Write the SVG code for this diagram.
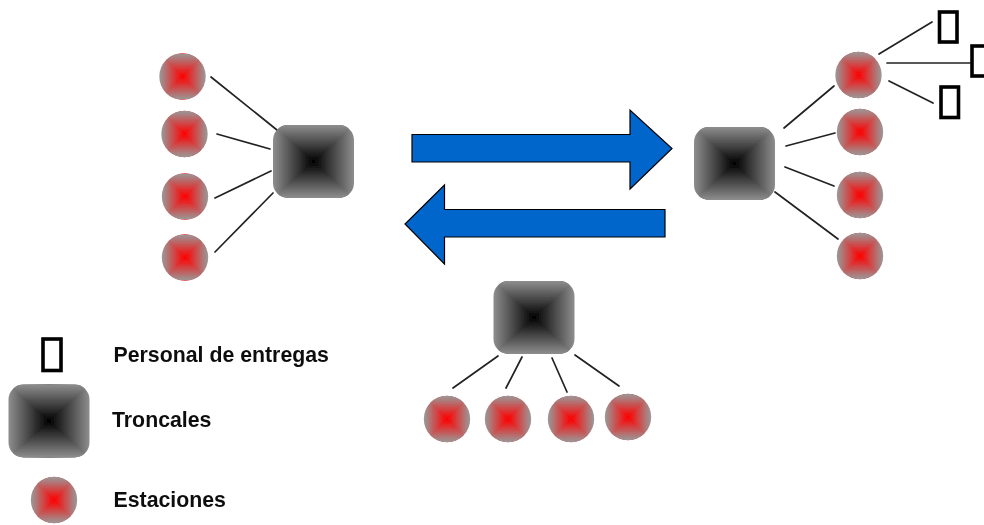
<svg xmlns="http://www.w3.org/2000/svg" width="984" height="525" viewBox="0 0 984 525">
<style>
.c{fill:none;stroke:#222;stroke-width:1.7;stroke-linecap:round}
.p{fill:#fff;stroke:#000;stroke-width:3.6}
.a{fill:#0066cc;stroke:#000;stroke-width:1.2}
.t{font-family:"Liberation Sans",Arial,sans-serif;font-weight:bold;font-size:21.3px;fill:#111}
</style>
<defs>
<filter id="soft" x="0" y="0" width="1" height="1"><feGaussianBlur stdDeviation="0.5"/></filter>
<linearGradient id="tV" gradientUnits="userSpaceOnUse" x1="0" y1="-36.5" x2="0" y2="36.5"><stop offset="0" stop-color="#8e8e8e"/><stop offset="0.5" stop-color="#000"/><stop offset="1" stop-color="#8e8e8e"/></linearGradient>
<linearGradient id="tH" gradientUnits="userSpaceOnUse" x1="-40.5" y1="0" x2="40.5" y2="0"><stop offset="0" stop-color="#8e8e8e"/><stop offset="0.5" stop-color="#000"/><stop offset="1" stop-color="#8e8e8e"/></linearGradient>
<linearGradient id="sV" gradientUnits="userSpaceOnUse" x1="0" y1="-23" x2="0" y2="23"><stop offset="0" stop-color="#999"/><stop offset="0.5" stop-color="#f00"/><stop offset="1" stop-color="#999"/></linearGradient>
<linearGradient id="sH" gradientUnits="userSpaceOnUse" x1="-23" y1="0" x2="23" y2="0"><stop offset="0" stop-color="#999"/><stop offset="0.5" stop-color="#f00"/><stop offset="1" stop-color="#999"/></linearGradient>
<clipPath id="tc"><rect x="-40.5" y="-36.5" width="81" height="73" rx="15" ry="15"/></clipPath>
<clipPath id="sc"><circle r="23.2"/></clipPath>
<g id="trunk"><g clip-path="url(#tc)">
<rect x="-41" y="-37" width="82" height="74" fill="url(#tH)"/>
<polygon points="-40.5,-36.5 40.5,-36.5 0,0 -40.5,36.5 40.5,36.5 0,0" fill="url(#tV)"/>
</g></g>
<g id="station"><g clip-path="url(#sc)">
<rect x="-24" y="-24" width="48" height="48" fill="url(#sH)"/>
<polygon points="-23,-23 23,-23 0,0 -23,23 23,23 0,0" fill="url(#sV)"/>
</g></g>
</defs>
<rect width="984" height="525" fill="#fff"/>
<g filter="url(#soft)">
<rect width="984" height="525" fill="#fff"/>
<g id="connectors">
<line class="c" x1="211" y1="77" x2="277" y2="130"/>
<line class="c" x1="217" y1="134" x2="270" y2="149"/>
<line class="c" x1="215" y1="198" x2="271" y2="171"/>
<line class="c" x1="215" y1="252" x2="273" y2="193"/>
<line class="c" x1="834" y1="86" x2="784" y2="128"/>
<line class="c" x1="835" y1="133" x2="786" y2="146"/>
<line class="c" x1="785" y1="167" x2="834" y2="186"/>
<line class="c" x1="775" y1="192" x2="838" y2="239"/>
<line class="c" x1="879" y1="54" x2="932" y2="22"/>
<line class="c" x1="887" y1="63" x2="970" y2="63"/>
<line class="c" x1="889" y1="81" x2="933" y2="103"/>
<line class="c" x1="453" y1="388" x2="498" y2="356"/>
<line class="c" x1="506" y1="388" x2="522" y2="357"/>
<line class="c" x1="567" y1="392" x2="552" y2="358"/>
<line class="c" x1="619" y1="386" x2="575" y2="355"/>
</g>
<g id="arrow-right"><polygon class="a" points="412,134.5 630,134.5 630,110 672,148.5 630,189 630,162 412,162"/></g>
<g id="arrow-left"><polygon class="a" points="665,209.5 444.5,209.5 444.5,185 405,224 444.5,264 444.5,237 665,237"/></g>
<g id="trunk-left"><use href="#trunk" x="313.5" y="161.5"/></g>
<g id="trunk-right"><use href="#trunk" x="734.5" y="163.5"/></g>
<g id="trunk-bottom"><use href="#trunk" x="534" y="317.5"/></g>
<g id="station-l1"><use href="#station" x="182.5" y="76.5"/></g>
<g id="station-l2"><use href="#station" x="184.5" y="134"/></g>
<g id="station-l3"><use href="#station" x="185" y="196.5"/></g>
<g id="station-l4"><use href="#station" x="185" y="257.5"/></g>
<g id="station-r1"><use href="#station" x="858.5" y="75"/></g>
<g id="station-r2"><use href="#station" x="860" y="132"/></g>
<g id="station-r3"><use href="#station" x="860" y="195"/></g>
<g id="station-r4"><use href="#station" x="860" y="256"/></g>
<g id="station-b1"><use href="#station" x="447" y="419"/></g>
<g id="station-b2"><use href="#station" x="508" y="419"/></g>
<g id="station-b3"><use href="#station" x="571" y="419"/></g>
<g id="station-b4"><use href="#station" x="628" y="417"/></g>
<g id="person-1"><rect class="p" x="939.5" y="12" width="17.5" height="30"/></g>
<g id="person-2"><rect class="p" x="972" y="46" width="18" height="30"/></g>
<g id="person-3"><rect class="p" x="941" y="87" width="17.5" height="30.5"/></g>
<g id="legend-person"><rect class="p" x="43" y="339" width="18" height="31.5"/><text class="t" x="113.500" y="362">Personal de entregas</text></g>
<g id="legend-trunk"><use href="#trunk" x="49" y="421"/><text class="t" x="112" y="427">Troncales</text></g>
<g id="legend-station"><use href="#station" x="54" y="500"/><text class="t" x="113.500" y="507">Estaciones</text></g>
</g>
</svg>
